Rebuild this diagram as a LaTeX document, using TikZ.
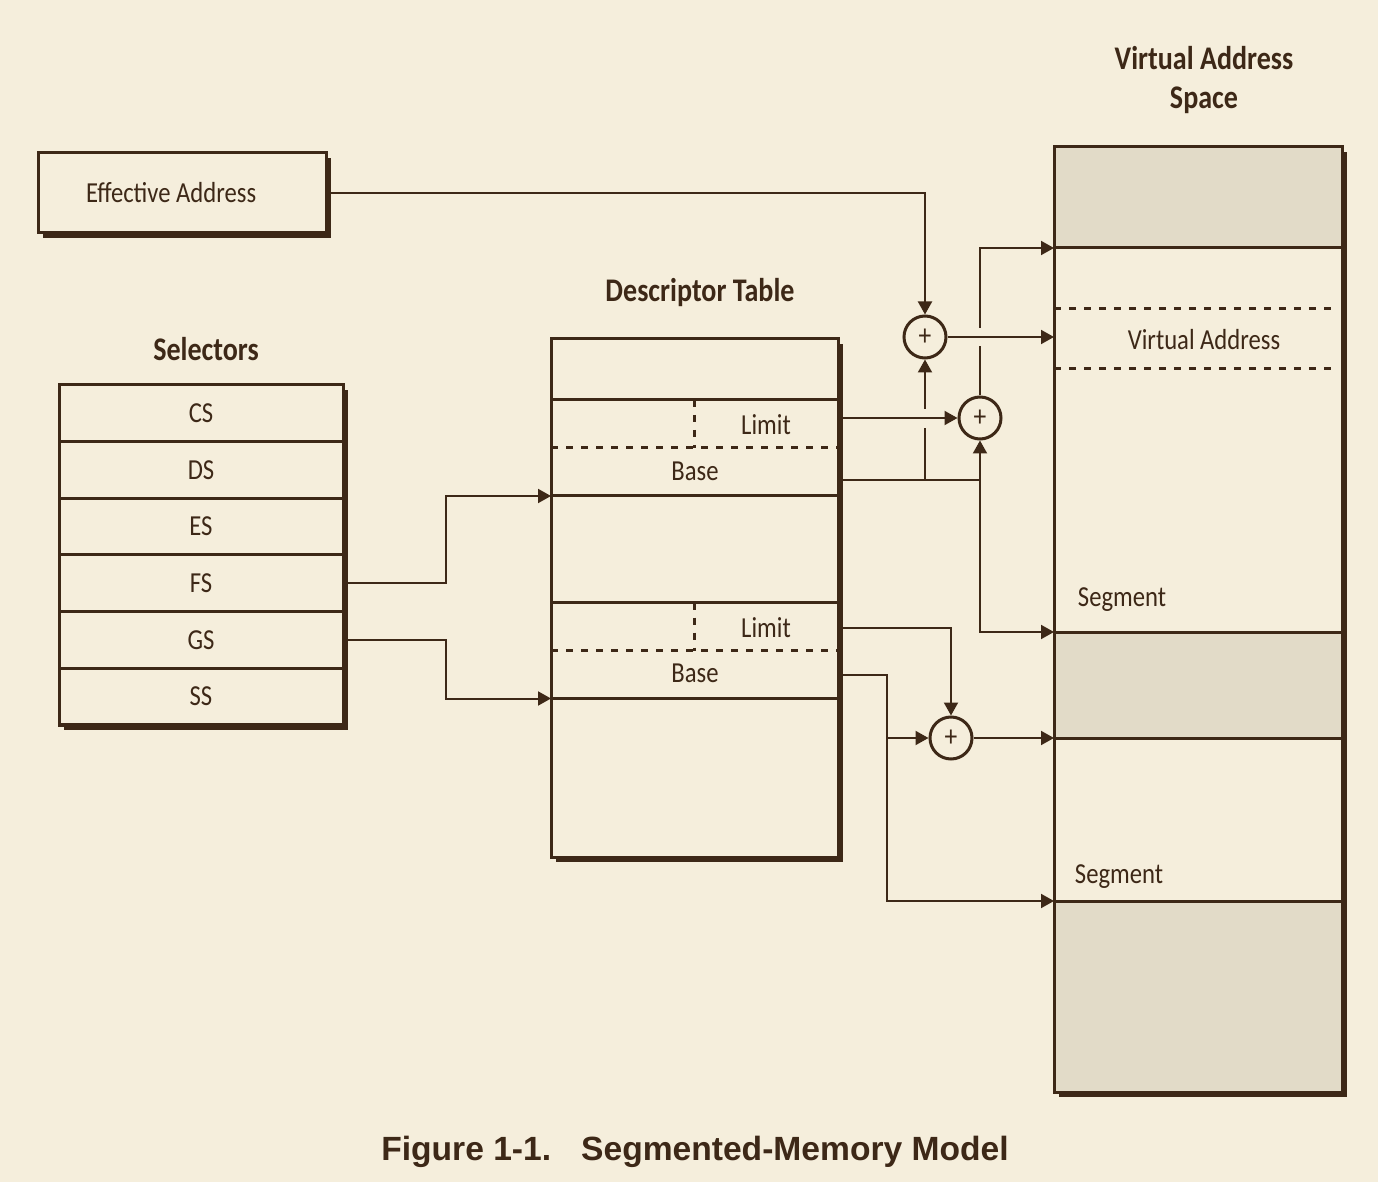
\documentclass[tikz,border=0pt]{standalone}
\usepackage{fontspec}
\setmainfont{Carlito}[FakeStretch=0.85]
\newfontfamily\capfont{Liberation Sans}
\usetikzlibrary{arrows.meta,shadows,positioning}

\definecolor{paper}{HTML}{F5EEDC}
\definecolor{ink}{HTML}{3D2817}
\definecolor{areagrey}{HTML}{E2DBC8}

\tikzset{every picture/.style={line width=1pt}}
\tikzset{
	box/.style={draw=ink, line width=1.5pt, fill=paper, inner sep=0pt, outer sep=0pt,
		drop shadow={shadow xshift=2.5pt, shadow yshift=-2.5pt, fill=ink, opacity=1}},
	row/.style={draw=ink, line width=1.5pt, minimum width=142pt, minimum height=28.33pt,
		inner sep=0pt, outer sep=0pt, text=ink, font=\fontsize{14.5}{18}\selectfont},
	entry/.style={inner sep=0pt, outer sep=0pt, minimum width=143.5pt, minimum height=48pt},
	lbl/.style={inner sep=0pt, text=ink, font=\fontsize{14.5}{18}\selectfont},
	ttl/.style={inner sep=0pt, text=ink, align=center, font=\bfseries\fontsize{16.5}{19.5}\selectfont},
	adder/.style={circle, draw=ink, line width=1.5pt, fill=paper, minimum size=21pt,
		inner sep=0pt, text=ink, font=\fontsize{15}{15}\selectfont},
	conn/.style={draw=ink, line width=1pt, -{Triangle[length=6.5pt,width=7pt]}},
	wire/.style={draw=ink, line width=1pt},
	sep/.style={draw=ink, line width=1.5pt},
	dsep/.style={draw=ink, line width=1.5pt, dash pattern={on 3.5pt off 4pt}},
}

\begin{document}
\begin{tikzpicture}[x=0.5pt,y=0.5pt,yscale=-1,xscale=1]
	%set diagram to the size of the page
	\fill[paper] (0,0) rectangle (1378,1182);
	\useasboundingbox (0,0) rectangle (1378,1182);
	
	%Shape: Rectangle [Effective Address]
	\node[box, minimum width=144pt, minimum height=40pt] (ea) at (182,193) {};
	% Text Node
	\node[lbl, anchor=west] (eatext) at (85,193) {Effective Address};
	
	%Shape: Selectors
	\node[box, minimum width=142pt, minimum height=170pt] (selbox) at (201,555) {};
	\node[row] (cs) at (201,413.3) {CS};
	\node[row, below=0pt of cs] (ds) {DS};
	\node[row, below=0pt of ds] (es) {ES};
	\node[row, below=0pt of es] (fs) {FS};
	\node[row, below=0pt of fs] (gs) {GS};
	\node[row, below=0pt of gs] (ss) {SS};
	% Text Node
	\node[ttl] (seltitle) at (206,349) {Selectors};
	
	%Shape: Descriptor Table
	\node[box, minimum width=143.5pt, minimum height=259pt] (dt) at (694.5,598) {};
	\node[entry] (ent1) at (694.5,448) {};
	\node[entry] (ent2) at (694.5,650.5) {};
	\draw[sep] (ent1.north west) -- (ent1.north east);
	\draw[sep] (ent1.south west) -- (ent1.south east);
	\draw[dsep] (ent1.west) -- (ent1.east);
	\draw[dsep] (ent1.north) -- (ent1.center);
	\draw[sep] (ent2.north west) -- (ent2.north east);
	\draw[sep] (ent2.south west) -- (ent2.south east);
	\draw[dsep] (ent2.west) -- (ent2.east);
	\draw[dsep] (ent2.north) -- (ent2.center);
	% Text Node
	\node[ttl] (dttitle) at (700,293) {Descriptor Table};
	\node[lbl] (limit1) at (766,425) {Limit};
	\node[lbl] (base1) at (695,471) {Base};
	\node[lbl] (limit2) at (766,628) {Limit};
	\node[lbl] (base2) at (695,673) {Base};
	
	%Shape: Virtual Address Space
	\node[box, minimum width=144pt, minimum height=472.5pt] (vas) at (1198,619.5) {};
	\coordinate (seg0) at (vas.west |- 0,248);
	\coordinate (seg1) at (vas.west |- 0,632);
	\coordinate (seg1end) at (vas.west |- 0,738);
	\coordinate (seg2) at (vas.west |- 0,901);
	\fill[areagrey] (vas.north west) rectangle (seg0 -| vas.east);
	\fill[areagrey] (seg1) rectangle (seg1end -| vas.east);
	\fill[areagrey] (seg2) rectangle (vas.south east);
	\draw[sep] (vas.north west) rectangle (vas.south east);
	\draw[sep] (seg0) -- (seg0 -| vas.east);
	\draw[sep] (seg1) -- (seg1 -| vas.east);
	\draw[sep] (seg1end) -- (seg1end -| vas.east);
	\draw[sep] (seg2) -- (seg2 -| vas.east);
	\draw[dsep] (vas.west |- 0,309) -- ++(278,0);
	\draw[dsep] (vas.west |- 0,369) -- ++(278,0);
	% Text Node
	\node[ttl] (vastitle) at (1204,80) {Virtual Address\\Space};
	\node[lbl] (vaddr) at (1204,340) {Virtual Address};
	\node[lbl] (segment1) at (1122,600) {Segment};
	\node[lbl] (segment2) at (1119,877) {Segment};
	
	%Shape: Adders
	\node[adder] (p1) at (925,337) {+};
	\node[adder] (p2) at (980,418) {+};
	\node[adder] (p3) at (951,738) {+};
	
	%Connectors: selectors to descriptor table
	\draw[conn] (fs.east) -- ++(103,0) |- (ent1.south west);
	\draw[conn] (gs.east) -- ++(103,0) |- (ent2.south west);
	
	%Connectors: upper descriptor
	\coordinate (j1) at (925,480);
	\coordinate (j2) at (980,480);
	\draw[conn] (ea.east) -| (p1);
	\draw[wire] (dt.east |- j2) -- (j2);
	\draw[wire] (j1) -- (j1 |- 0,428);
	\draw[conn] (j1 |- 0,409) -- (p1);
	\draw[conn] (dt.east |- p2) -- (p2);
	\draw[conn] (j2) -- (p2);
	\draw[conn] (j2) |- (seg1);
	\draw[wire] (p2) -- (p2 |- 0,346);
	\draw[conn] (p2 |- 0,328) |- (seg0);
	\draw[conn] (p1) -- (p1 -| vas.west);
	
	%Connectors: lower descriptor
	\coordinate (j3) at (887,738);
	\draw[conn] (dt.east |- 0,628) -| (p3);
	\draw[wire] (dt.east |- 0,675) -| (j3);
	\draw[conn] (j3) |- (seg2);
	\draw[conn] (j3) -- (p3);
	\draw[conn] (p3) -- (seg1end);
	
	% Text Node
	\node[inner sep=0pt, text=ink, font=\capfont\bfseries\fontsize{16.8}{20}\selectfont] (caption) at (695,1152) {Figure 1-1.\hspace{15pt}Segmented-Memory Model};
	
\end{tikzpicture}
\end{document}
